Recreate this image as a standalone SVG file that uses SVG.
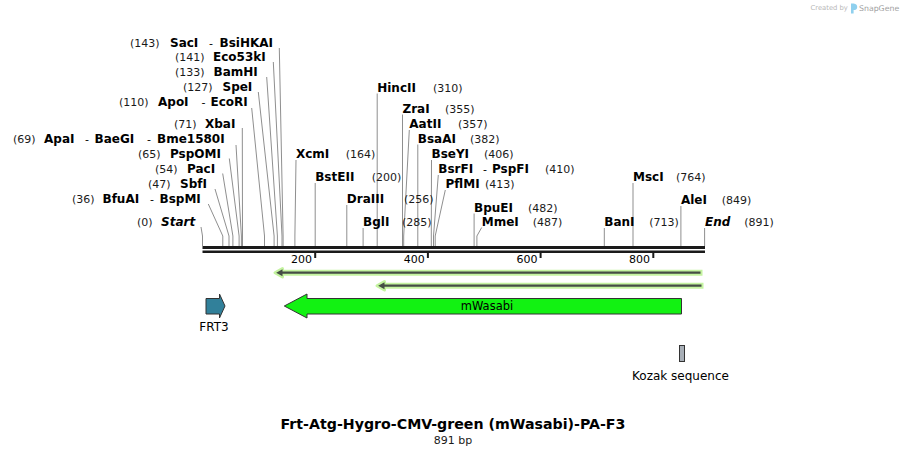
<svg xmlns="http://www.w3.org/2000/svg" width="908" height="456" viewBox="0 0 908 456">
<style>
text{font-family:"DejaVu Sans",Verdana,sans-serif;fill:#000}
.n{font-size:11px;fill:#1a1a1a}
.b{font-size:12px;font-weight:bold}
.bi{font-size:12px;font-weight:bold;font-style:italic}
.d{font-size:11px}
.cl{fill:none;stroke:#8f8f8f;stroke-width:1}
.tk{font-size:11px}
.halo{fill:none;stroke:#c4f3a0;stroke-width:6}
.haloh{fill:#c4f3a0;stroke:#c4f3a0;stroke-width:3;stroke-linejoin:round}
.pl{stroke:#454d45;stroke-width:2.3;fill:none}
.ph{fill:#454d45}
.feat{stroke:#333;stroke-width:1}
.fl{font-size:12px}
</style>
<rect width="908" height="456" fill="#fff"/>
<g id="watermark">
<text x="810.5" y="10" style="font-size:6.8px;fill:#b8b8b8">Created by</text>
<path d="M851 3.5 h2.6 v10 h-2.6 z M853.6 3.5 q4 0.5 3.6 4 q-0.5 2.6 -3.6 2.6 z" fill="#8fd0ee"/>
<text x="859" y="10.5" style="font-size:7.8px;fill:#a0a0a0">SnapGene</text>
</g>
<g id="connectors">
<polyline class="cl" points="279.3,48 283.1,236 283.1,246"/>
<polyline class="cl" points="273.3,62 282,236 282,246"/>
<polyline class="cl" points="266.7,77 277.4,236 277.4,246"/>
<polyline class="cl" points="258.3,92 274.1,236 274.1,246"/>
<polyline class="cl" points="251.7,108 264.5,236 264.5,246"/>
<polyline class="cl" points="242.3,128 242.5,236 242.5,246"/>
<polyline class="cl" points="236,145 241.4,236 241.4,246"/>
<polyline class="cl" points="229.3,158.5 239.1,236 239.1,246"/>
<polyline class="cl" points="222.7,173.5 232.9,236 232.9,246"/>
<polyline class="cl" points="215,189 229,236 229,246"/>
<polyline class="cl" points="208.3,204 222.8,236 222.8,246"/>
<polyline class="cl" points="201,227 202.5,236 202.5,246"/>
<polyline class="cl" points="296,160 294.9,236 294.9,246"/>
<polyline class="cl" points="315.2,183 315.2,246"/>
<polyline class="cl" points="346.8,205 346.8,246"/>
<polyline class="cl" points="363.1,228 363.1,246"/>
<polyline class="cl" points="377.2,93.5 377.2,246"/>
<polyline class="cl" points="402.5,114.5 402.5,246"/>
<polyline class="cl" points="409.3,130 403.7,236 403.7,246"/>
<polyline class="cl" points="417.8,144.5 417.8,246"/>
<polyline class="cl" points="431.5,160 431.3,236 431.3,246"/>
<polyline class="cl" points="438.3,175 433.5,236 433.5,246"/>
<polyline class="cl" points="445.3,190 435.2,236 435.2,246"/>
<polyline class="cl" points="474.1,213.5 474.1,246"/>
<polyline class="cl" points="481.7,227.5 476.9,236 476.9,246"/>
<polyline class="cl" points="604.3,228 604.3,246"/>
<polyline class="cl" points="633,183 633,246"/>
<polyline class="cl" points="680.9,206 680.9,246"/>
<polyline class="cl" points="704.6,228 704.6,246"/>
</g>
<g id="ruler">
<rect x="202.5" y="246" width="502.5" height="3" fill="#1a1a1a"/>
<rect x="202.5" y="250.5" width="502.5" height="2.5" fill="#1a1a1a"/>
<rect x="314.2" y="253" width="2" height="5" fill="#1a1a1a"/>
<rect x="426.9" y="253" width="2" height="5" fill="#1a1a1a"/>
<rect x="539.6" y="253" width="2" height="5" fill="#1a1a1a"/>
<rect x="652.3" y="253" width="2" height="5" fill="#1a1a1a"/>
<text class="tk" x="312" y="263" text-anchor="end">200</text>
<text class="tk" x="424.7" y="263" text-anchor="end">400</text>
<text class="tk" x="537.4" y="263" text-anchor="end">600</text>
<text class="tk" x="650.1" y="263" text-anchor="end">800</text>
</g>
<g id="site-SacI"><text class="n" x="130" y="47">(143)</text><text class="b" x="170" y="47">SacI</text><text class="d" x="209" y="47">-</text><text class="b" x="219.5" y="47">BsiHKAI</text></g>
<g id="site-Eco53kI"><text class="n" x="175" y="61">(141)</text><text class="b" x="213" y="61">Eco53kI</text></g>
<g id="site-BamHI"><text class="n" x="175" y="76">(133)</text><text class="b" x="213.5" y="76">BamHI</text></g>
<g id="site-SpeI"><text class="n" x="183" y="91">(127)</text><text class="b" x="222.5" y="91">SpeI</text></g>
<g id="site-ApoI"><text class="n" x="119" y="106">(110)</text><text class="b" x="158" y="106">ApoI</text><text class="d" x="201.5" y="106">-</text><text class="b" x="210.5" y="106">EcoRI</text></g>
<g id="site-XbaI"><text class="n" x="174" y="128">(71)</text><text class="b" x="205" y="128">XbaI</text></g>
<g id="site-ApaI"><text class="n" x="13" y="143">(69)</text><text class="b" x="44" y="143">ApaI</text><text class="d" x="85" y="143">-</text><text class="b" x="94.5" y="143">BaeGI</text><text class="d" x="147" y="143">-</text><text class="b" x="157" y="143">Bme1580I</text></g>
<g id="site-PspOMI"><text class="n" x="138" y="158">(65)</text><text class="b" x="170" y="158">PspOMI</text></g>
<g id="site-PacI"><text class="n" x="155" y="173">(54)</text><text class="b" x="187" y="173">PacI</text></g>
<g id="site-SbfI"><text class="n" x="148" y="188">(47)</text><text class="b" x="180" y="188">SbfI</text></g>
<g id="site-BfuAI"><text class="n" x="72" y="203">(36)</text><text class="b" x="102.5" y="203">BfuAI</text><text class="d" x="150" y="203">-</text><text class="b" x="159.5" y="203">BspMI</text></g>
<g id="site-Start"><text class="n" x="137" y="226">(0)</text><text class="bi" x="161" y="226">Start</text></g>
<g id="site-XcmI"><text class="b" x="296" y="158">XcmI</text><text class="n" x="345.7" y="158">(164)</text></g>
<g id="site-BstEII"><text class="b" x="315.2" y="181">BstEII</text><text class="n" x="371.7" y="181">(200)</text></g>
<g id="site-DraIII"><text class="b" x="346.8" y="203">DraIII</text><text class="n" x="404" y="203">(256)</text></g>
<g id="site-BglI"><text class="b" x="363.1" y="226">BglI</text><text class="n" x="402" y="226">(285)</text></g>
<g id="site-HincII"><text class="b" x="377.2" y="91.5">HincII</text><text class="n" x="433" y="91.5">(310)</text></g>
<g id="site-ZraI"><text class="b" x="402.5" y="112.5">ZraI</text><text class="n" x="445" y="112.5">(355)</text></g>
<g id="site-AatII"><text class="b" x="409.3" y="128">AatII</text><text class="n" x="458" y="128">(357)</text></g>
<g id="site-BsaAI"><text class="b" x="417.8" y="142.5">BsaAI</text><text class="n" x="470" y="142.5">(382)</text></g>
<g id="site-BseYI"><text class="b" x="431.5" y="158">BseYI</text><text class="n" x="484" y="158">(406)</text></g>
<g id="site-BsrFI"><text class="b" x="438.3" y="173">BsrFI</text><text class="d" x="483" y="173">-</text><text class="b" x="492" y="173">PspFI</text><text class="n" x="545" y="173">(410)</text></g>
<g id="site-PflMI"><text class="b" x="445.5" y="188">PflMI</text><text class="n" x="485" y="188">(413)</text></g>
<g id="site-BpuEI"><text class="b" x="474.1" y="211.5">BpuEI</text><text class="n" x="528" y="211.5">(482)</text></g>
<g id="site-MmeI"><text class="b" x="481.7" y="226">MmeI</text><text class="n" x="532.7" y="226">(487)</text></g>
<g id="site-MscI"><text class="b" x="633" y="181">MscI</text><text class="n" x="676" y="181">(764)</text></g>
<g id="site-AleI"><text class="b" x="680.9" y="204">AleI</text><text class="n" x="721.7" y="204">(849)</text></g>
<g id="site-BanI"><text class="b" x="604.3" y="226">BanI</text><text class="n" x="649.3" y="226">(713)</text></g>
<g id="site-End"><text class="bi" x="705" y="226">End</text><text class="n" x="744.3" y="226">(891)</text></g>
<g id="primer1">
<path class="halo" d="M702.5 272.7 H279"/>
<path class="haloh" d="M282.5 268.5 L275 272.7 L282.5 276.9 Z"/>
<path class="pl" d="M700.5 272.7 H280"/>
<path class="ph" d="M282.5 269.2 L276.2 272.7 L282.5 276.2 Z"/>
</g>
<g id="primer2">
<path class="halo" d="M703.5 285.7 H381"/>
<path class="haloh" d="M384.5 281.5 L377 285.7 L384.5 289.9 Z"/>
<path class="pl" d="M701.5 285.7 H382"/>
<path class="ph" d="M384.5 282.2 L378.2 285.7 L384.5 289.2 Z"/>
</g>
<g id="feature-FRT3">
<polygon class="feat" fill="#31809a" points="206,298.5 219.5,298.5 219.5,294 225,306 219.5,318 219.5,314 206,314"/>
<text class="fl" x="214" y="331" text-anchor="middle">FRT3</text>
</g>
<g id="feature-mWasabi">
<polygon class="feat" fill="#12f212" points="284.3,306 307,294 307,298.5 681.5,298.5 681.5,314 307,314 307,318"/>
<text x="487" y="310" text-anchor="middle" style="font-size:11.5px">mWasabi</text>
</g>
<g id="feature-Kozak">
<rect class="feat" x="679.5" y="345.5" width="5" height="16" fill="#a8afb7"/>
<text class="fl" x="680.5" y="380" text-anchor="middle">Kozak sequence</text>
</g>
<g id="title">
<text x="453" y="429" text-anchor="middle" style="font-size:14.2px;font-weight:bold">Frt-Atg-Hygro-CMV-green (mWasabi)-PA-F3</text>
<text x="453" y="444" text-anchor="middle" style="font-size:11px;fill:#1a1a1a">891 bp</text>
</g>
</svg>
